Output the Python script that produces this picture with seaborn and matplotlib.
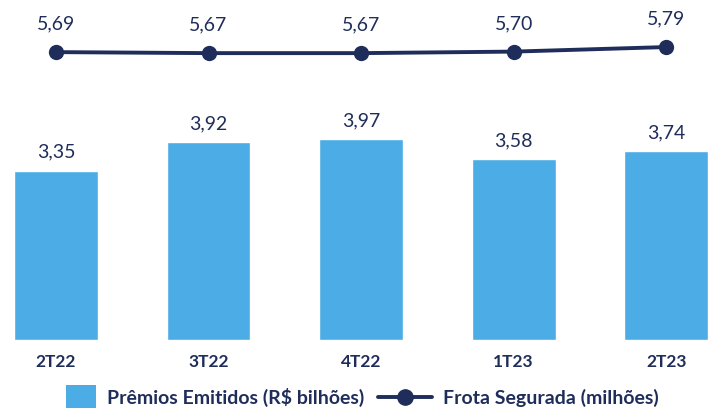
import matplotlib
matplotlib.use("Agg")
import matplotlib.pyplot as plt
import seaborn as sns
import numpy as np
import pandas as pd
from matplotlib.patches import Rectangle
from matplotlib.lines import Line2D
from matplotlib.legend_handler import HandlerPatch

# ---------------------------------------------------------------------------
# Data
# ---------------------------------------------------------------------------
quarters = ["2T22", "3T22", "4T22", "1T23", "2T23"]
premios = [3.35, 3.92, 3.97, 3.58, 3.74]      # R$ bilhões
frota = [5.69, 5.67, 5.67, 5.70, 5.79]        # milhões

BAR_COLOR = "#4BACE6"
NAVY = "#1F2D5B"

sns.set_style("white")
plt.rcParams["font.family"] = ["Lato", "DejaVu Sans"]

df = pd.DataFrame({"quarter": quarters, "premios": premios, "frota": frota})
df["pos"] = np.arange(len(df))

fig = plt.figure(figsize=(7.15, 4.11), dpi=100)
ax = fig.add_axes([0, 71 / 411, 1, 340 / 411])

sns.barplot(data=df, x="quarter", y="premios", color=BAR_COLOR,
            width=0.55, saturation=1, ax=ax)
sns.lineplot(data=df, x="pos", y="frota", color=NAVY, linewidth=2.8,
             marker="o", markersize=11, markeredgewidth=0, ax=ax)

for x, v in zip(df["pos"], df["premios"]):
    ax.annotate(f"{v:.2f}".replace(".", ","), (x, v), xytext=(0, 7),
                textcoords="offset points", ha="center", va="bottom",
                fontsize=14, color=NAVY)
for x, v in zip(df["pos"], df["frota"]):
    ax.annotate(f"{v:.2f}".replace(".", ","), (x, v), xytext=(0, 14),
                textcoords="offset points", ha="center", va="bottom",
                fontsize=14, color=NAVY)

ax.set_xlim(-0.367, 4.32)
ax.set_ylim(0, 6.72)
ax.set_yticks([])
ax.set_xlabel("")
ax.set_ylabel("")
ax.tick_params(axis="x", length=0, pad=10)
for lbl in ax.get_xticklabels():
    lbl.set_fontweight("bold")
    lbl.set_fontsize(12.5)
    lbl.set_color(NAVY)
sns.despine(ax=ax, left=True, bottom=True)


# legend square is narrower than the line handle
def square_patch(legend, orig_handle, xdescent, ydescent, width, height, fontsize):
    w = 1.55 * fontsize
    h = 1.2 * fontsize
    return Rectangle((-xdescent + width - w, -ydescent + height / 2 - h / 2), w, h)


handles = [
    Rectangle((0, 0), 1, 1, facecolor=BAR_COLOR, edgecolor="none",
              label="Prêmios Emitidos (R$ bilhões)"),
    Line2D([], [], color=NAVY, linewidth=2.8, marker="o", markersize=11,
           label="Frota Segurada (milhões)"),
]
leg = fig.legend(handles=handles, loc="center", bbox_to_anchor=(0.49, 14 / 411),
                 ncol=2, frameon=False, handlelength=2.8,
                 columnspacing=0.7, handletextpad=0.55,
                 handler_map={Rectangle: HandlerPatch(patch_func=square_patch)},
                 prop={"weight": "bold", "size": 14})
for t in leg.get_texts():
    t.set_color(NAVY)

fig.savefig("out.png", dpi=100)
